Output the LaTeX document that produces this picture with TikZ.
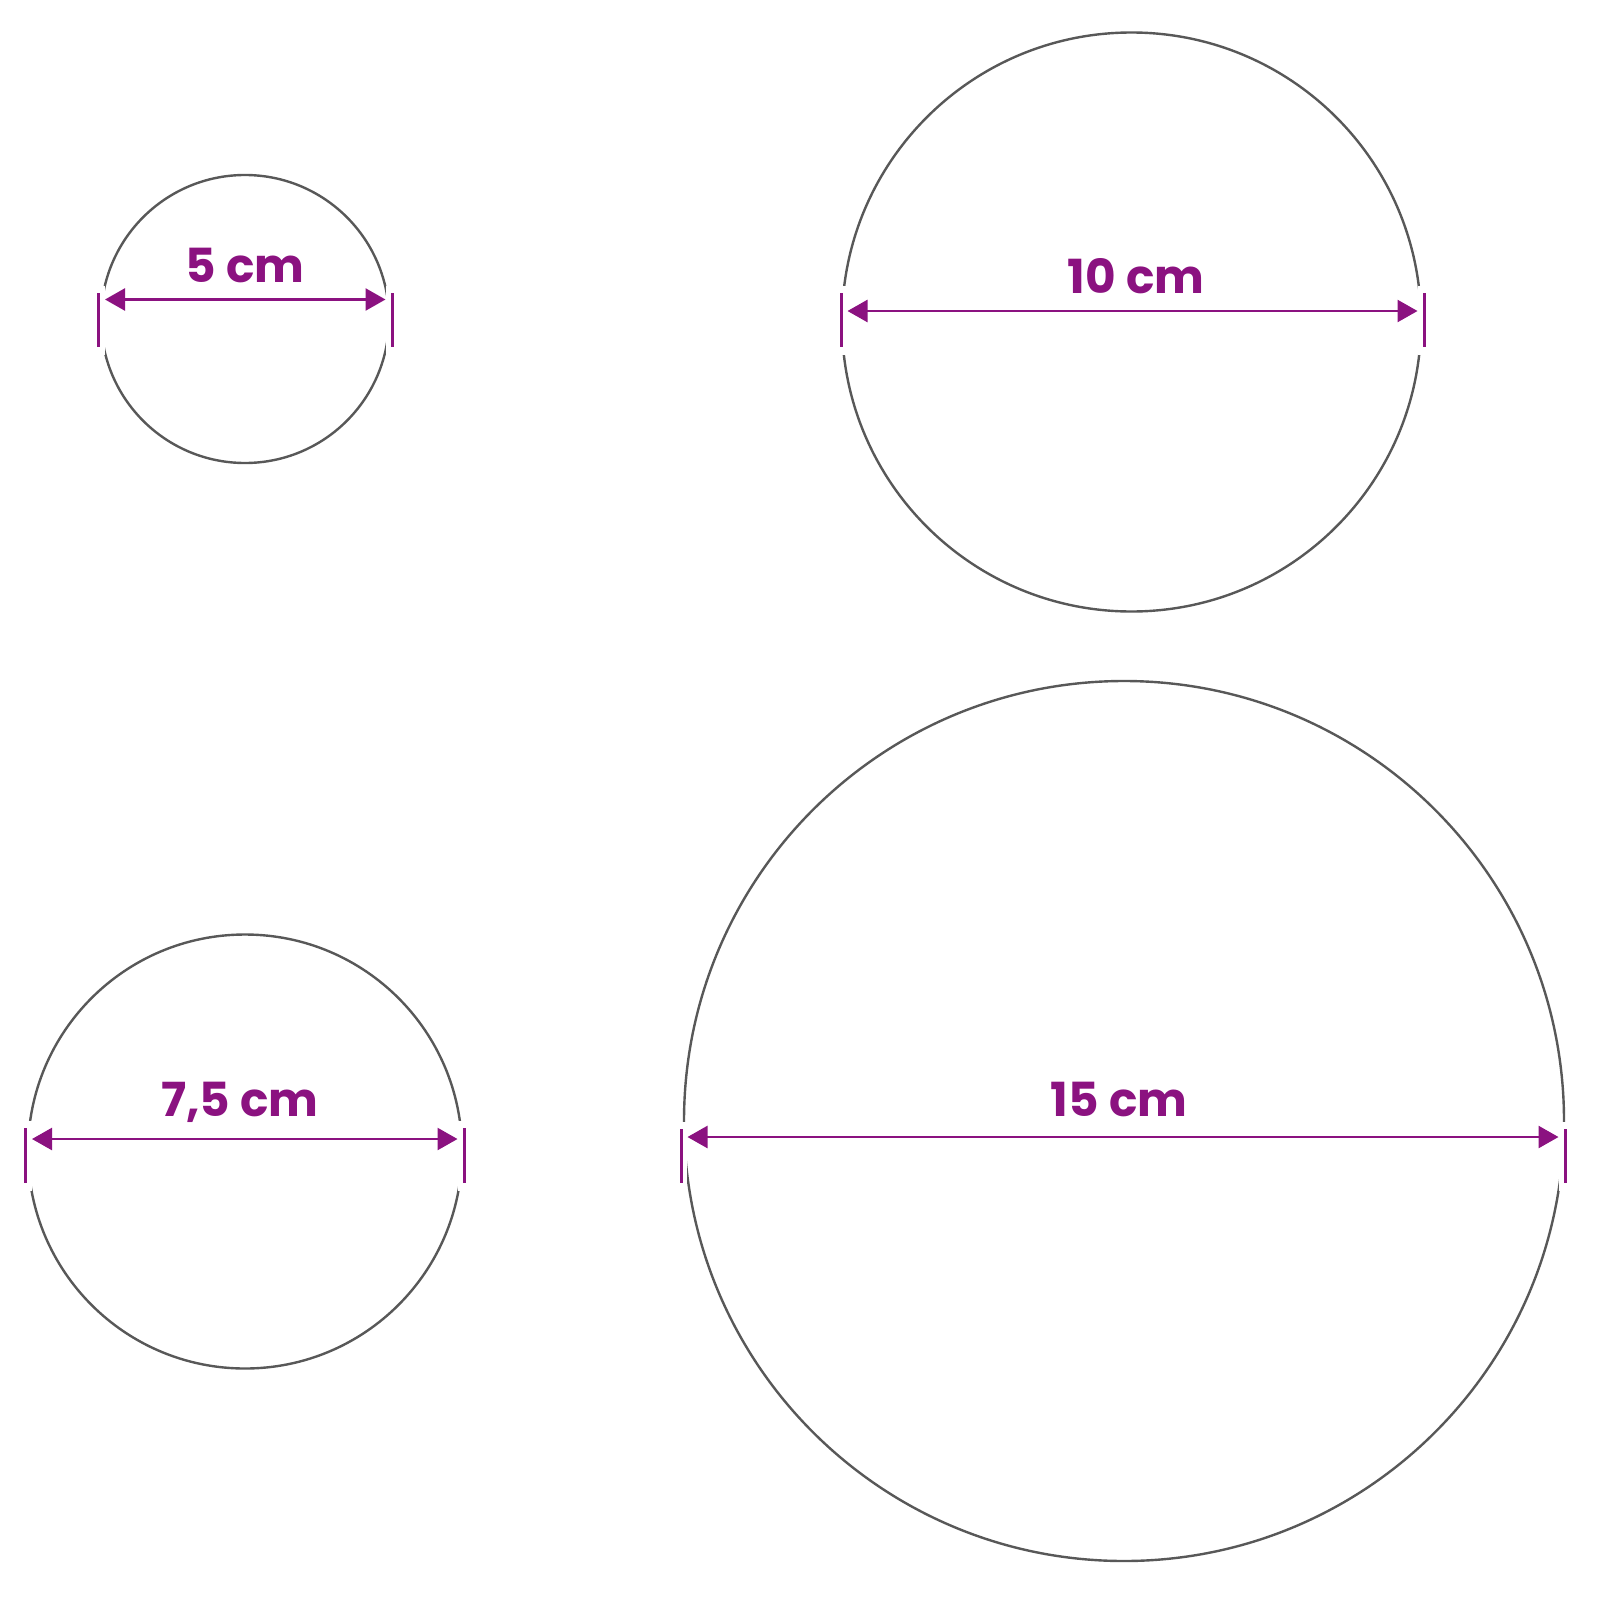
\documentclass[tikz,border=0pt]{standalone}
\usepackage{fontspec}
\setmainfont{Poppins}
\usetikzlibrary{arrows.meta}
\definecolor{dimpurple}{RGB}{139,18,128}
\definecolor{rimgray}{RGB}{88,88,88}
\begin{document}
\begin{tikzpicture}[x=1pt,y=-1pt,
  rim/.style={circle, draw=rimgray, line width=2.4pt, inner sep=0pt, outer sep=0pt},
  gapmask/.style={draw=white, line width=12pt},
  tickmark/.style={draw=dimpurple, line width=3pt},
  dimline/.style={draw=dimpurple, line width=2.5pt, {Triangle[length=20pt,width=22pt]}-{Triangle[length=20pt,width=22pt]}},
  dimlabel/.style={text=dimpurple, font=\fontsize{47}{47}\selectfont\bfseries, anchor=base, inner sep=0pt}]
\useasboundingbox (0,0) rectangle (1600,1600);

% circles
\node[rim, minimum size=288pt] (c5) at (245,319) {};
\node[rim, minimum size=579pt] (c10) at (1131.5,322) {};
\node[rim, minimum size=434pt] (c75) at (245,1151.5) {};
\node[rim, minimum size=880pt] (c15) at (1124,1121) {};

% tick coordinates
\coordinate (t5l) at (98.5,293);  \coordinate (b5l) at (98.5,347);
\coordinate (t5r) at (392,293);   \coordinate (b5r) at (392,347);
\coordinate (t10l) at (841,293);  \coordinate (b10l) at (841,347);
\coordinate (t10r) at (1424,293); \coordinate (b10r) at (1424,347);
\coordinate (t75l) at (25.5,1128); \coordinate (b75l) at (25.5,1183);
\coordinate (t75r) at (464,1128);  \coordinate (b75r) at (464,1183);
\coordinate (t15l) at (681,1129);  \coordinate (b15l) at (681,1183);
\coordinate (t15r) at (1565,1129); \coordinate (b15r) at (1565,1183);

% arrow end coordinates
\coordinate (a5l) at (105,299.5);   \coordinate (a5r) at (385.5,299.5);
\coordinate (a10l) at (847.5,311);  \coordinate (a10r) at (1417.5,311);
\coordinate (a75l) at (32,1139);    \coordinate (a75r) at (457.5,1139);
\coordinate (a15l) at (687.5,1137); \coordinate (a15r) at (1558.5,1137);

% gaps in the rims behind the ticks
\foreach \k in {5l,5r,10l,10r,75l,75r,15l,15r}{
  \draw[gapmask] ([yshift=7pt]t\k) -- ([yshift=-8pt]b\k);
  \draw[tickmark] (t\k) -- (b\k);
}

% dimension arrows
\draw[dimline] (a5l) -- (a5r);
\draw[dimline] (a10l) -- (a10r);
\draw[dimline] (a75l) -- (a75r);
\draw[dimline] (a15l) -- (a15r);

% labels
\node[dimlabel] (l5) at (245,282) {5 cm};
\node[dimlabel] (l10) at (1136,293) {10 cm};
\node[dimlabel] (l75) at (240,1116) {7,5 cm};
\node[dimlabel] (l15) at (1119,1116) {15 cm};
\end{tikzpicture}
\end{document}
